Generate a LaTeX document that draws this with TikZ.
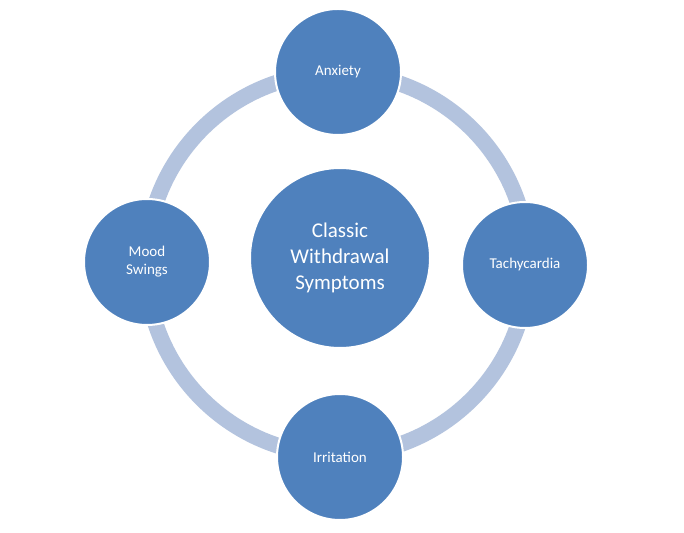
\documentclass[tikz,border=0pt]{standalone}
\usepackage{fontspec}
\setmainfont{Carlito}
\definecolor{cfill}{HTML}{4F81BD}
\definecolor{ring}{HTML}{B3C3DE}
\begin{document}
\begin{tikzpicture}[x=1pt,y=1pt,
  outer/.style={circle,fill=cfill,draw=white,line width=2pt,minimum size=126pt,inner sep=0pt,text=white,font=\fontsize{15}{18}\selectfont,align=center},
  inner/.style={circle,fill=cfill,draw=white,line width=2pt,minimum size=180pt,inner sep=0pt,text=white,font=\fontsize{21}{26}\selectfont,align=center}]
\useasboundingbox[fill=white] (0,0) rectangle (684,532);
\coordinate (c) at (337,268);
\draw[ring,line width=16pt] (c) circle (191);
\node[inner] (m) at (340,274) {Classic\\Withdrawal\\Symptoms};
\node[outer] (a) at (338,460) {Anxiety};
\node[outer] (t) at (525,267) {Tachycardia};
\node[outer] (i) at (340,75) {Irritation};
\node[outer] (s) at (147,270) {Mood\\Swings};
\end{tikzpicture}
\end{document}
